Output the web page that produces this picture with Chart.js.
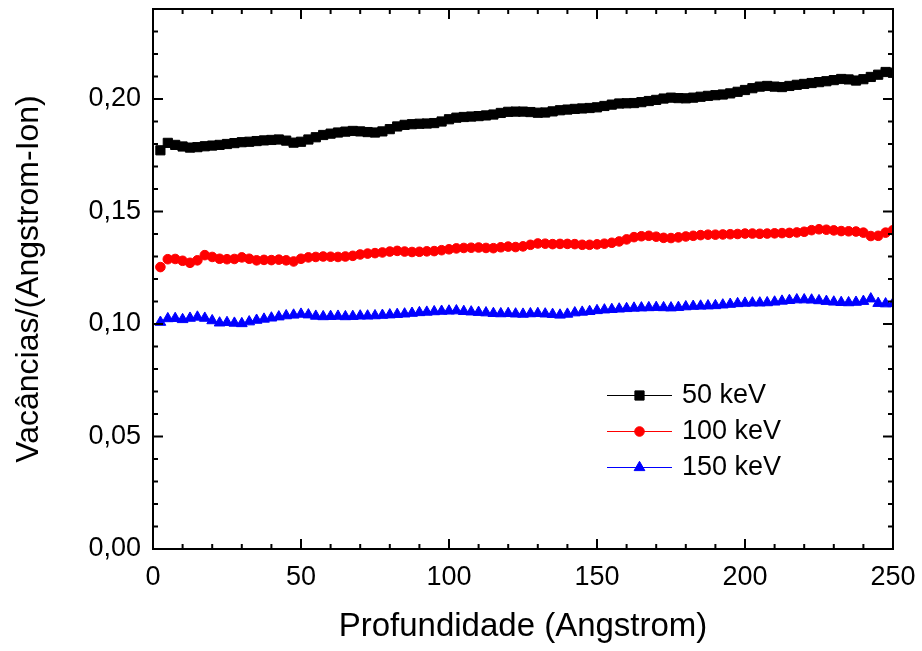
<!DOCTYPE html>
<html>
<head>
<meta charset="utf-8">
<script src="https://cdn.jsdelivr.net/npm/chart.js@4.4.0/dist/chart.umd.min.js"></script>
<style>
  html, body { margin: 0; padding: 0; background: #fff; }
  #wrap { width: 922px; height: 651px; }
</style>
</head>
<body>
<div id="wrap"><canvas id="vacChart" width="922" height="651"></canvas></div>
<script>
// Depth (Angstrom)
const depth = [
  2.5, 5, 7.5, 10, 12.5, 15, 17.5, 20, 22.5, 25, 27.5, 30, 32.5, 35, 37.5, 40, 42.5, 45, 47.5, 50,
  52.5, 55, 57.5, 60, 62.5, 65, 67.5, 70, 72.5, 75, 77.5, 80, 82.5, 85, 87.5, 90, 92.5, 95, 97.5, 100,
  102.5, 105, 107.5, 110, 112.5, 115, 117.5, 120, 122.5, 125, 127.5, 130, 132.5, 135, 137.5, 140, 142.5, 145, 147.5, 150,
  152.5, 155, 157.5, 160, 162.5, 165, 167.5, 170, 172.5, 175, 177.5, 180, 182.5, 185, 187.5, 190, 192.5, 195, 197.5, 200,
  202.5, 205, 207.5, 210, 212.5, 215, 217.5, 220, 222.5, 225, 227.5, 230, 232.5, 235, 237.5, 240, 242.5, 245, 247.5, 250
];

// Vacancies per Angstrom-ion
const kev50 = [
  0.1772, 0.1805, 0.1796, 0.1789, 0.1784, 0.1786, 0.1790, 0.1793, 0.1796, 0.1800,
  0.1804, 0.1808, 0.1810, 0.1813, 0.1816, 0.1818, 0.1820, 0.1815, 0.1806, 0.1810,
  0.1820, 0.1830, 0.1840, 0.1846, 0.1851, 0.1855, 0.1858, 0.1856, 0.1853, 0.1851,
  0.1856, 0.1866, 0.1878, 0.1885, 0.1888, 0.1890, 0.1891, 0.1893, 0.1900, 0.1910,
  0.1917, 0.1920, 0.1922, 0.1924, 0.1927, 0.1931, 0.1938, 0.1943, 0.1944, 0.1944,
  0.1942, 0.1939, 0.1940, 0.1945, 0.1950, 0.1953, 0.1956, 0.1958, 0.1960, 0.1963,
  0.1969, 0.1975, 0.1980, 0.1981, 0.1982, 0.1986, 0.1991, 0.1996, 0.2002, 0.2006,
  0.2004, 0.2003, 0.2006, 0.2010, 0.2014, 0.2017, 0.2020, 0.2025, 0.2032, 0.2040,
  0.2048, 0.2055, 0.2058, 0.2055, 0.2053, 0.2058, 0.2063, 0.2067, 0.2071, 0.2075,
  0.2079, 0.2084, 0.2089, 0.2087, 0.2082, 0.2088, 0.2098, 0.2108, 0.2120, 0.2117
];
const kev100 = [
  0.1253, 0.1288, 0.1289, 0.1281, 0.1272, 0.1283, 0.1306, 0.1298, 0.1290, 0.1288,
  0.1289, 0.1296, 0.1290, 0.1283, 0.1285, 0.1284, 0.1286, 0.1283, 0.1278, 0.1290,
  0.1296, 0.1298, 0.1300, 0.1299, 0.1298, 0.1300, 0.1303, 0.1309, 0.1313, 0.1315,
  0.1318, 0.1322, 0.1325, 0.1322, 0.1320, 0.1321, 0.1323, 0.1324, 0.1328, 0.1332,
  0.1336, 0.1338, 0.1339, 0.1340, 0.1338, 0.1337, 0.1341, 0.1344, 0.1342, 0.1345,
  0.1352, 0.1358, 0.1357, 0.1355, 0.1356, 0.1356, 0.1355, 0.1352, 0.1352, 0.1354,
  0.1357, 0.1361, 0.1367, 0.1376, 0.1386, 0.1390, 0.1392, 0.1388, 0.1383, 0.1382,
  0.1385, 0.1389, 0.1392, 0.1395, 0.1397, 0.1397, 0.1398, 0.1399, 0.1400, 0.1402,
  0.1402, 0.1401, 0.1402, 0.1403, 0.1404, 0.1405, 0.1407, 0.1410, 0.1417, 0.1421,
  0.1419, 0.1416, 0.1413, 0.1412, 0.1411, 0.1406, 0.1391, 0.1392, 0.1406, 0.1417
];
const kev150 = [
  0.1008, 0.1024, 0.1025, 0.1020, 0.1026, 0.1031, 0.1026, 0.1015, 0.1005, 0.1007,
  0.1004, 0.1002, 0.1010, 0.1017, 0.1022, 0.1027, 0.1032, 0.1037, 0.1040, 0.1044,
  0.1041, 0.1035, 0.1033, 0.1034, 0.1035, 0.1033, 0.1034, 0.1036, 0.1036, 0.1037,
  0.1039, 0.1041, 0.1043, 0.1045, 0.1048, 0.1051, 0.1053, 0.1055, 0.1057, 0.1058,
  0.1059, 0.1056, 0.1054, 0.1052, 0.1050, 0.1047, 0.1046, 0.1047, 0.1045, 0.1044,
  0.1046, 0.1047, 0.1045, 0.1043, 0.1040, 0.1044, 0.1050, 0.1053, 0.1056, 0.1060,
  0.1063, 0.1065, 0.1067, 0.1069, 0.1071, 0.1072, 0.1073, 0.1074, 0.1073, 0.1072,
  0.1074, 0.1077, 0.1079, 0.1080, 0.1081, 0.1082, 0.1085, 0.1088, 0.1091, 0.1093,
  0.1094, 0.1094, 0.1095, 0.1098, 0.1102, 0.1105, 0.1108, 0.1108, 0.1107, 0.1104,
  0.1101, 0.1098, 0.1096, 0.1095, 0.1097, 0.1101, 0.1112, 0.1092, 0.1090, 0.1091
];

const seriesNames = ['50 keV', '100 keV', '150 keV'];
const xTicks = [0, 50, 100, 150, 200, 250];
const xMinorTicks = [10, 20, 30, 40, 60, 70, 80, 90, 110, 120, 130, 140, 160, 170, 180, 190, 210, 220, 230, 240];
const yTicks = [0, 0.05, 0.10, 0.15, 0.20];
const yMinorTicks = [0.01, 0.02, 0.03, 0.04, 0.06, 0.07, 0.08, 0.09, 0.11, 0.12, 0.13, 0.14, 0.16, 0.17, 0.18, 0.19, 0.21, 0.22, 0.23];

const FONT = 'Arial, "Liberation Sans", sans-serif';

function toPoints(ys) {
  return depth.map((x, i) => ({ x: x, y: ys[i] }));
}

function makeSet(label, ys, color, style, radius) {
  return {
    label: label,
    data: toPoints(ys),
    borderColor: color,
    backgroundColor: color,
    borderWidth: 1,
    pointStyle: style,
    pointRadius: radius,
    pointBorderWidth: 1,
    pointBorderColor: color,
    pointBackgroundColor: color,
    tension: 0
  };
}

// frame with inward ticks on all four sides, plus the legend
const framePlugin = {
  id: 'frame',
  afterDraw(chart) {
    const ctx = chart.ctx;
    const a = chart.chartArea;
    const xs = chart.scales.x, ys = chart.scales.y;
    ctx.save();
    ctx.strokeStyle = '#000';
    ctx.lineWidth = 2;
    ctx.strokeRect(a.left, a.top, a.right - a.left, a.bottom - a.top);

    const tick = (list, len, horiz) => {
      list.forEach(v => {
        ctx.beginPath();
        if (horiz) {
          const px = xs.getPixelForValue(v);
          ctx.moveTo(px, a.bottom); ctx.lineTo(px, a.bottom - len);
          ctx.moveTo(px, a.top); ctx.lineTo(px, a.top + len);
        } else {
          const py = ys.getPixelForValue(v);
          ctx.moveTo(a.left, py); ctx.lineTo(a.left + len, py);
          ctx.moveTo(a.right, py); ctx.lineTo(a.right - len, py);
        }
        ctx.stroke();
      });
    };
    tick(xTicks, 10, true);
    tick(xMinorTicks, 5, true);
    tick(yTicks, 10, false);
    tick(yMinorTicks, 5, false);

    // legend
    const lx0 = 607, lx1 = 672, tx = 682;
    const rows = [395, 431, 467];
    chart.data.datasets.forEach((ds, i) => {
      const y = rows[i];
      ctx.strokeStyle = ds.borderColor;
      ctx.fillStyle = ds.borderColor;
      ctx.lineWidth = 1;
      ctx.beginPath();
      ctx.moveTo(lx0, y + 0.5); ctx.lineTo(lx1, y + 0.5);
      ctx.stroke();
      Chart.helpers.drawPoint(ctx, {
        pointStyle: ds.pointStyle,
        radius: ds.pointRadius,
        borderWidth: 1,
        rotation: 0
      }, (lx0 + lx1) / 2, y + 0.5);
      ctx.fillStyle = '#000';
      ctx.font = '27px ' + FONT;
      ctx.textAlign = 'left';
      ctx.textBaseline = 'middle';
      ctx.fillText(ds.label, tx, y + 1);
    });
    ctx.restore();
  }
};

new Chart(document.getElementById('vacChart'), {
  type: 'line',
  data: {
    datasets: [
      makeSet(seriesNames[0], kev50, '#000000', 'rect', 6.5),
      makeSet(seriesNames[1], kev100, '#ff0000', 'circle', 4.8),
      makeSet(seriesNames[2], kev150, '#0000ff', 'triangle', 6.2)
    ]
  },
  options: {
    responsive: false,
    animation: false,
    devicePixelRatio: 1,
    layout: { padding: { left: 0, top: 9, right: 29, bottom: 0 } },
    plugins: {
      legend: { display: false },
      tooltip: { enabled: false }
    },
    scales: {
      x: {
        type: 'linear',
        min: 0,
        max: 250,
        grid: { display: false, drawTicks: false },
        border: { display: false },
        afterBuildTicks(scale) { scale.ticks = xTicks.map(v => ({ value: v })); },
        afterFit(scale) {
          scale.height = 102;
          scale.paddingLeft = 0;
          scale.paddingRight = 0;
        },
        ticks: {
          color: '#000',
          padding: 12,
          maxRotation: 0,
          font: { family: FONT, size: 27 },
          callback: v => String(v)
        },
        title: {
          display: true,
          text: 'Profundidade (Angstrom)',
          color: '#000',
          font: { family: FONT, size: 33 },
          padding: { top: 0, bottom: 4 }
        }
      },
      y: {
        type: 'linear',
        min: 0,
        max: 0.24,
        grid: { display: false, drawTicks: false },
        border: { display: false },
        afterBuildTicks(scale) { scale.ticks = yTicks.map(v => ({ value: v })); },
        afterFit(scale) {
          scale.width = 153;
          scale.paddingTop = 0;
          scale.paddingBottom = 0;
        },
        ticks: {
          color: '#000',
          padding: 12,
          font: { family: FONT, size: 27 },
          callback: v => v.toFixed(2).replace('.', ',')
        },
        title: {
          display: true,
          text: 'Vacâncias/(Angstrom-Ion)',
          color: '#000',
          font: { family: FONT, size: 32 },
          padding: { top: 10, bottom: 0 }
        }
      }
    }
  },
  plugins: [framePlugin]
});
</script>
</body>
</html>
